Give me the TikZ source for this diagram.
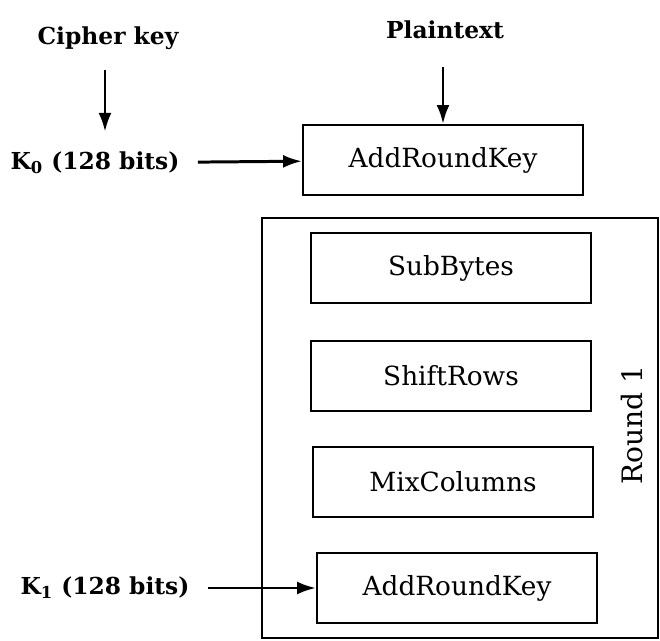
\documentclass[tikz,border=0pt]{standalone}
\usepackage{fontspec}
\setmainfont{DejaVu Serif}
\usetikzlibrary{arrows.meta}

\begin{document}
\begin{tikzpicture}[x=0.02cm, y=-0.02cm,
    stagebox/.style={draw, line width=1.1pt, minimum width=5.6cm, minimum height=1.4cm, font=\fontsize{15}{18}\selectfont},
    inlabel/.style={font=\bfseries\fontsize{13.3}{16}\selectfont},
    feed/.style={-{Latex[length=3.8mm,width=2.6mm]}, line width=1.7pt}]
    \useasboundingbox (0,0) rectangle (660,641);

    % Inputs
    \node[inlabel] (cipher) at (108,38) {Cipher key};
    \node[inlabel] (plain) at (445,30) {Plaintext};
    \node[inlabel] (k0) at (95,163) {K\textsubscript{0} (128 bits)};
    \node[inlabel] (k1) at (105,588) {K\textsubscript{1} (128 bits)};

    % Initial round
    \node[stagebox] (ark0) at (443,160) {AddRoundKey};

    % Round 1
    \draw[line width=1.1pt] (262,218) rectangle (658,638);
    \node[stagebox] (sub) at (451,268) {SubBytes};
    \node[stagebox] (shift) at (451,376) {ShiftRows};
    \node[stagebox] (mix) at (453,482) {MixColumns};
    \node[stagebox] (ark1) at (457,588) {AddRoundKey};
    \node[rotate=90, font=\fontsize{16}{19}\selectfont] (round) at (632,425) {Round 1};

    % Arrows
    \draw[feed, shorten <=8pt, shorten >=8pt] (cipher.south -| 105,0) -- (k0.north -| 105,0);
    \draw[feed] (plain.south -| ark0) ++(0,22) -- (ark0.north);
    \draw[feed, shorten <=7pt] (k0) -- (ark0);
    \draw[feed, shorten <=7pt] (k1) -- (ark1);
\end{tikzpicture}
\end{document}
